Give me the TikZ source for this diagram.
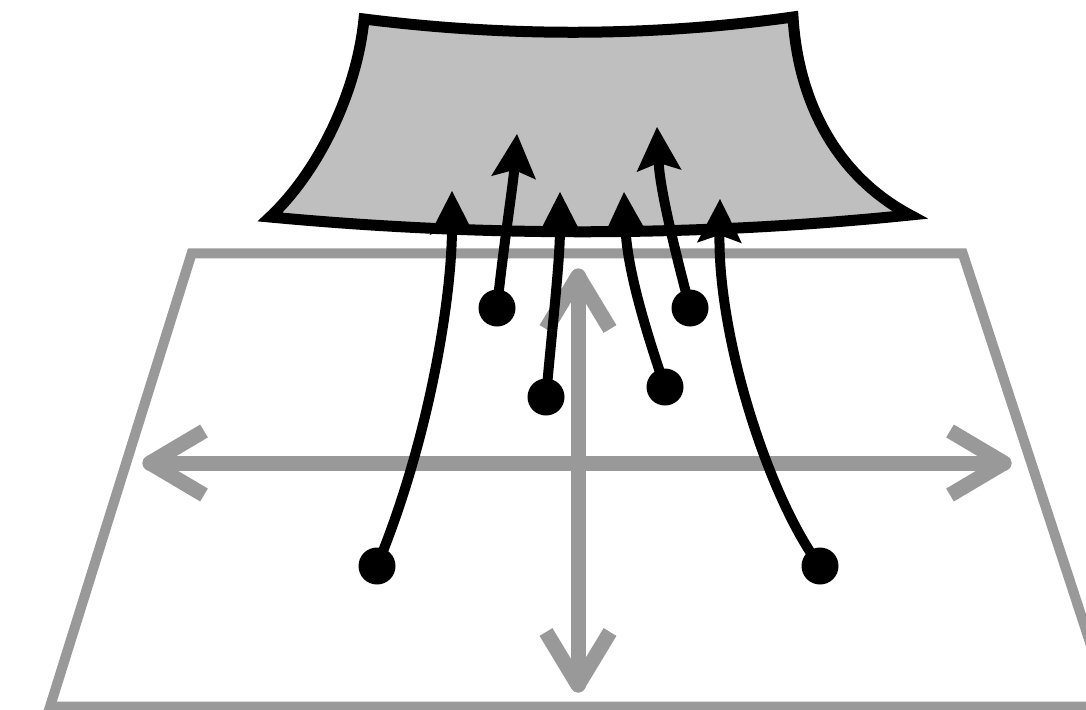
\documentclass[tikz,border=0pt]{standalone}
\usetikzlibrary{arrows.meta}
\definecolor{planegray}{HTML}{999999}
\definecolor{regiongray}{HTML}{BFBFBF}
\begin{document}
\begin{tikzpicture}[x=1pt,y=-1pt,
  planeline/.style={draw=planegray, line width=10pt, line join=miter},
  axisline/.style={draw=planegray, line width=15pt, line cap=round},
  barb/.style={draw=planegray, line width=15pt, line join=round, line cap=butt},
  region/.style={draw=black, fill=regiongray, line width=11pt, line join=miter},
  conn/.style={draw=black, line width=10pt, -{Stealth[length=44pt,width=45pt,inset=8pt,line width=0pt]}},
  dot/.style={circle, fill=black, inner sep=0pt, minimum size=37pt}]
\useasboundingbox (0,0) rectangle (1086,709);
\clip (0,0) rectangle (1086,709);
% plane
\draw[planeline] (191.7,253.3) -- (962.7,253.3) -- (1111,706.7) -- (50,706.7) -- cycle;
% axes
\draw[axisline] (150,463) -- (1004,463);
\draw[barb] (204,431) -- (150,463) -- (204,495);
\draw[barb] (950,431) -- (1004,463) -- (950,495);
\draw[axisline] (578,276) -- (578,685);
\draw[barb] (546,329) -- (578,276) -- (610,329);
\draw[barb] (546,632) -- (578,685) -- (610,632);
% region
\draw[region] (364,19) .. controls (507,37) and (650,37) .. (793,17)
  .. controls (798,100) and (835,175) .. (910,215)
  .. controls (697,237) and (483,237) .. (270,217)
  .. controls (320,170) and (357,90) .. cycle;
% dots
\node[dot] (d1) at (377,566) {};
\node[dot] (d2) at (497,308) {};
\node[dot] (d3) at (546,397) {};
\node[dot] (d4) at (665,387) {};
\node[dot] (d5) at (690,308) {};
\node[dot] (d6) at (820,566) {};
% tips
\coordinate (t1) at (452,191);
\coordinate (t2) at (517,134);
\coordinate (t3) at (560,192);
\coordinate (t4) at (624,192);
\coordinate (t5) at (657,127);
\coordinate (t6) at (720,199);
% connectors
\draw[conn] (d1.center) .. controls (428,443) and (452,300) .. (t1);
\draw[conn] (d2.center) .. controls (503,250) and (513,185) .. (t2);
\draw[conn] (d3.center) .. controls (553,320) and (560,260) .. (t3);
\draw[conn] (d4.center) .. controls (642,320) and (627,265) .. (t4);
\draw[conn] (d5.center) .. controls (676,255) and (660,190) .. (t5);
\draw[conn] (d6.center) .. controls (770,500) and (718,340) .. (t6);
\end{tikzpicture}
\end{document}
